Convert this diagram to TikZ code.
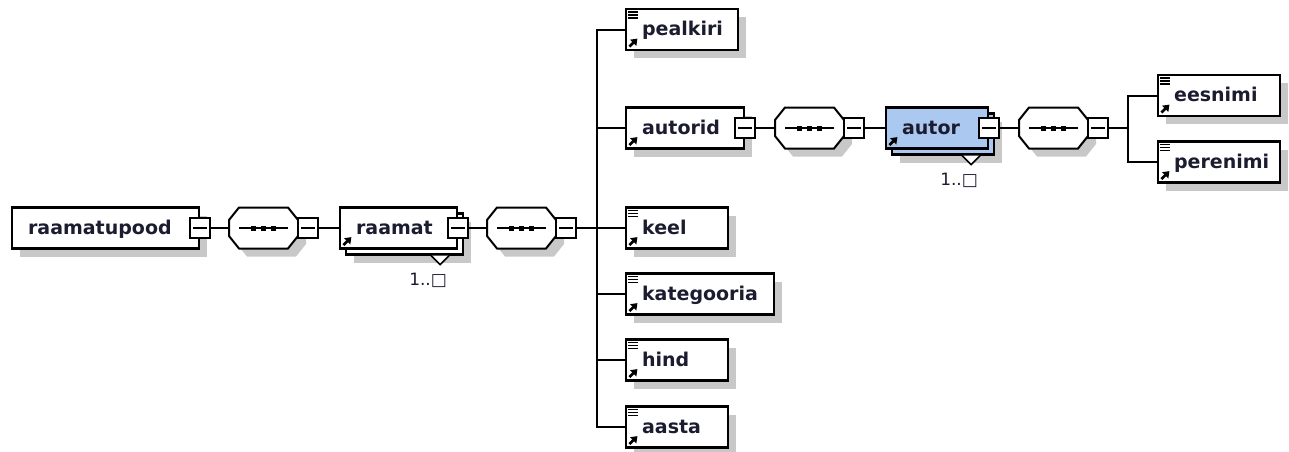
\documentclass[tikz,border=0pt]{standalone}
\usepackage{fontspec}
\setmainfont{DejaVu Sans}
\usetikzlibrary{shadows,arrows.meta,calc}
\definecolor{shgray}{RGB}{200,200,200}
\definecolor{txt}{RGB}{28,28,48}
\definecolor{blu}{RGB}{170,200,240}
\tikzset{
  box/.style={draw=black, line width=2.2pt, fill=white, minimum height=41pt, inner sep=0pt,
    drop shadow={shadow xshift=8pt,shadow yshift=-8pt,fill=shgray,opacity=1}},
  plainbox/.style={draw=black, line width=2.2pt, fill=white, minimum height=41pt, inner sep=0pt},
  lbl/.style={inner sep=0pt, anchor=base west, text=txt, font=\fontsize{19}{20}\selectfont\bfseries},
  minus/.style={draw=black, fill=white, line width=2pt, minimum size=20pt, inner sep=0pt,
    path picture={\draw[line width=1.8pt] ([xshift=-7pt]path picture bounding box.center) -- ([xshift=7pt]path picture bounding box.center);}},
  conn/.style={line width=2pt},
  occ/.style={inner sep=0pt, anchor=base, text=txt, font=\fontsize{17}{18}\selectfont},
  octo/.style={draw=black, line width=2pt, fill=white},
}
\newcommand\elem[5]{%
  \node[box,minimum width=#4pt] (#1) at ({#2+#4/2},#3) {};
  \node[lbl] (#1-t) at ([xshift=17pt,yshift=-6pt]#1.west) {#5};
}
\newcommand\texticon[1]{%
  \foreach \k in {4,7,10} \draw[line width=1.2pt] ([shift={(3,\k)}]#1.north west) -- ++(10,0);
}
\newcommand\refarrow[1]{%
  \draw[line width=2.6pt,-{Triangle[length=6pt,width=8.5pt]}] ([shift={(4.5,-4.5)}]#1.south west) -- ++(8,-8);
}
\newcommand\multi[5]{%
  \node[box,minimum width=#4pt,fill=#5] (#1-b) at ({#2+#4/2+6},{#3+6}) {};
  \draw[line width=1.5pt,fill=white] ([xshift=-33pt]#1-b.south east) -- ++(9,9) -- ++(9,-9);
  \node[plainbox,minimum width=#4pt,fill=#5] (#1) at ({#2+#4/2},#3) {};
  \node[lbl] (#1-t) at ([xshift=17pt,yshift=-6pt]#1.west) {#1};
  \node[minus] (#1-sq) at (#1.east) {};
  \refarrow{#1}
  \node[occ] (#1-o) at ([xshift=-36pt,yshift=-30pt]#1-b.south east) {1..□};
}
\newcommand\seqn[3]{%
  \node[inner sep=0pt,minimum width=69pt,minimum height=41pt] (#1) at ({#2+34.5},#3) {};
  \begin{scope}[shift={(#2,#3)}]
    \fill[shgray,shift={(8,8)}] (0,-8) -- (10,-20.5) -- (59,-20.5) -- (69,-8) -- (69,8) -- (59,20.5) -- (10,20.5) -- (0,8) -- cycle;
    \draw[octo] (0,-8) -- (10,-20.5) -- (59,-20.5) -- (69,-8) -- (69,8) -- (59,20.5) -- (10,20.5) -- (0,8) -- cycle;
    \draw[line width=1.8pt] (10,0) -- (59,0);
    \foreach \d in {24.5,34.5,44.5} \fill (\d-2.5,-2.5) rectangle ++(5,5);
  \end{scope}
  \node[minus] (#1-sq) at ({#2+79},#3) {};
}
\begin{document}
\begin{tikzpicture}[x=1pt,y=-1pt]
\useasboundingbox[fill=white] (0,0) rectangle (1289,451);
% root
\elem{rp}{12}{228}{187}{raamatupood}
\node[minus] (rp-sq) at (rp.east) {};
\seqn{s1}{229}{228}
\multi{raamat}{340}{228}{117}{white}
\seqn{s2}{487}{228}
\coordinate (br1) at (597,228);
% children of raamat
\elem{pealkiri}{626}{29.5}{112}{pealkiri}
\texticon{pealkiri}\refarrow{pealkiri}
\elem{autorid}{626}{128}{118}{autorid}
\node[minus] (autorid-sq) at (autorid.east) {};
\refarrow{autorid}
\elem{keel}{626}{228}{102}{keel}
\texticon{keel}\refarrow{keel}
\elem{kategooria}{626}{294}{148}{kategooria}
\texticon{kategooria}\refarrow{kategooria}
\elem{hind}{626}{360}{102}{hind}
\texticon{hind}\refarrow{hind}
\elem{aasta}{626}{427}{102}{aasta}
\texticon{aasta}\refarrow{aasta}
% autor branch
\seqn{s3}{775}{128}
\multi{autor}{886}{128}{102}{blu}
\seqn{s4}{1019}{128}
\coordinate (br2) at (1128,128);
\elem{eesnimi}{1158}{95.5}{122}{eesnimi}
\texticon{eesnimi}\refarrow{eesnimi}
\elem{perenimi}{1158}{162}{122}{perenimi}
\texticon{perenimi}\refarrow{perenimi}
% connectors
\draw[conn] (rp-sq.east) -- (s1.west);
\draw[conn] (s1-sq.east) -- (raamat.west);
\draw[conn] (raamat-sq.east) -- (s2.west);
\draw[conn] (s2-sq.east) -- (br1);
\foreach \c in {pealkiri,autorid,keel,kategooria,hind,aasta} \draw[conn] (br1) |- (\c.west);
\draw[conn] (autorid-sq.east) -- (s3.west);
\draw[conn] (s3-sq.east) -- (autor.west);
\draw[conn] (autor-sq.east) -- (s4.west);
\draw[conn] (s4-sq.east) -- (br2);
\foreach \c in {eesnimi,perenimi} \draw[conn] (br2) |- (\c.west);
\end{tikzpicture}
\end{document}
